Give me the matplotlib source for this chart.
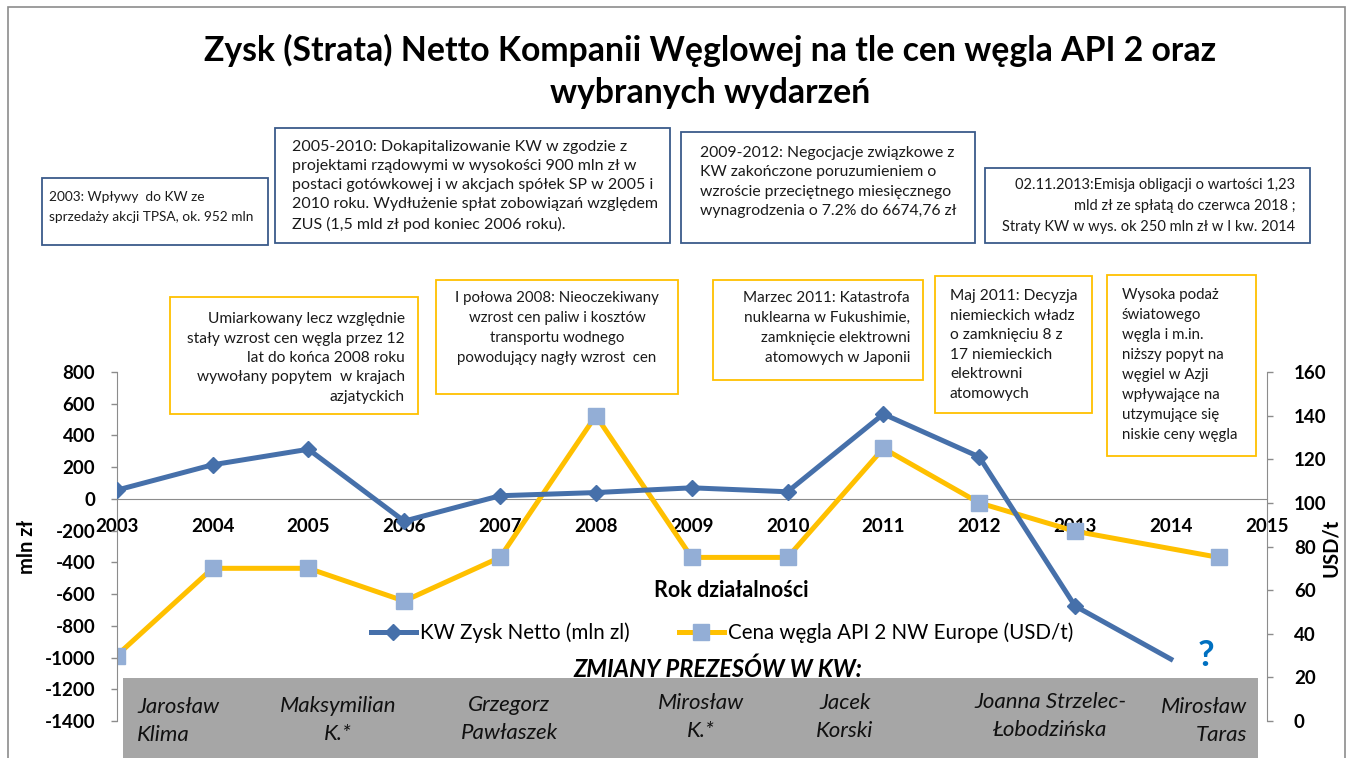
import matplotlib
matplotlib.use('Agg')
import matplotlib.pyplot as plt
from matplotlib.patches import Rectangle
from matplotlib.lines import Line2D

# ---------------- data ----------------
years_kw = [2003, 2004, 2005, 2006, 2007, 2008, 2009, 2010, 2011, 2012, 2013, 2014]
kw_profit = [55, 215, 313, -140, 20, 40, 70, 45, 535, 265, -675, -1010]

years_coal = [2003, 2004, 2005, 2006, 2007, 2008, 2009, 2010, 2011, 2012, 2013, 2014.5]
coal_price = [30, 70, 70, 55, 75, 140, 75, 75, 125, 100, 87, 75]

x_ticks = list(range(2003, 2016))
left_ticks = list(range(-1400, 801, 200))
right_ticks = list(range(0, 161, 20))

title = "Zysk (Strata) Netto Kompanii Węglowej na tle cen węgla API 2 oraz\nwybranych wydarzeń"
label_kw = "KW Zysk Netto (mln zl)"
label_coal = "Cena węgla API 2 NW Europe (USD/t)"

blue_notes = [
    "2003: Wpływy  do KW ze\nsprzedaży akcji TPSA, ok. 952 mln",
    "2005-2010: Dokapitalizowanie KW w zgodzie z\nprojektami rządowymi w wysokości 900 mln zł w\n"
    "postaci gotówkowej i w akcjach spółek SP w 2005 i\n2010 roku. Wydłużenie spłat zobowiązań względem\n"
    "ZUS (1,5 mld zł pod koniec 2006 roku).",
    "2009-2012: Negocjacje związkowe z\nKW zakończone poruzumieniem o\nwzroście przeciętnego miesięcznego\n"
    "wynagrodzenia o 7.2% do 6674,76 zł",
    "02.11.2013:Emisja obligacji o wartości 1,23\nmld zł ze spłatą do czerwca 2018 ;\n"
    "Straty KW w wys. ok 250 mln zł w I kw. 2014",
]
yellow_notes = [
    "Umiarkowany lecz względnie\nstały wzrost cen węgla przez 12\nlat do końca 2008 roku\n"
    "wywołany popytem  w krajach\nazjatyckich",
    "I połowa 2008: Nieoczekiwany\nwzrost cen paliw i kosztów\ntransportu wodnego\npowodujący nagły wzrost  cen",
    "Marzec 2011: Katastrofa\nnuklearna w Fukushimie,\nzamknięcie elektrowni\natomowych w Japonii",
    "Maj 2011: Decyzja\nniemieckich władz\no zamknięciu 8 z\n17 niemieckich\nelektrowni\natomowych",
    "Wysoka podaż\nświatowego\nwęgla i m.in.\nniższy popyt na\nwęgiel w Azji\nwpływające na\n"
    "utzymujące się\nniskie ceny węgla",
]
presidents = ["Jarosław\nKlima", "Maksymilian\nK.*", "Grzegorz\nPawłaszek", "Mirosław\nK.*",
              "Jacek\nKorski", "Joanna Strzelec-\nŁobodzińska", "Mirosław\nTaras"]

# ---------------- layout helpers ----------------
W, H = 1351, 758
def fx(px):
    return px / W
def fy(py):
    return 1 - py / H

FONT = 'Lato'
plt.rcParams['font.family'] = [FONT, 'DejaVu Sans']

BLUE = '#4670AA'
YELLOW = '#FFC000'
SQUARE = '#93AED6'
SPINE = '#8C8C8C'

fig = plt.figure(figsize=(W / 100, H / 100), dpi=100)
fig.patch.set_facecolor('white')

# outer frame
fig.add_artist(Rectangle((fx(8), fy(775)), fx(1345) - fx(8), fy(7) - fy(775),
                         transform=fig.transFigure, fill=False, edgecolor='#8C8C8C', lw=1.2, zorder=0))

ax_l, ax_r, ax_t, ax_b = 116.7, 1266.7, 372, 721
axc = fig.add_axes([fx(ax_l), fy(ax_b), (ax_r - ax_l) / W, (ax_b - ax_t) / H])
axk = axc.twinx()

# swap sides: coal axis on right (bottom layer), KW axis on left (top layer)
axc.yaxis.tick_right()
axc.yaxis.set_label_position('right')
axk.yaxis.tick_left()
axk.yaxis.set_label_position('left')
axc.patch.set_visible(False)
axk.patch.set_visible(False)

axc.set_xlim(2003, 2015)
axc.set_ylim(0, 160)
axk.set_ylim(-1400, 800)

for s in ['left', 'top']:
    axc.spines[s].set_visible(False)
axc.spines['right'].set_color(SPINE)
axc.spines['bottom'].set_color(SPINE)
axc.spines['bottom'].set_position(('axes', 1400 / 2200))
for s in ['right', 'top', 'bottom']:
    axk.spines[s].set_visible(False)
axk.spines['left'].set_color(SPINE)

axc.set_xticks(x_ticks)
axc.set_xticklabels([str(y) for y in x_ticks], fontsize=13.5, fontweight='bold')
axc.tick_params(axis='x', length=0, pad=13.5)
axc.set_yticks(right_ticks)
axc.set_yticklabels([str(v) for v in right_ticks], fontsize=13.5, fontweight='bold')
axc.tick_params(axis='y', length=4.5, color=SPINE, width=1, pad=15)
axk.set_yticks(left_ticks)
axk.set_yticklabels([str(v) for v in left_ticks], fontsize=13.5, fontweight='bold')
axk.tick_params(axis='y', length=4.5, color=SPINE, width=1, pad=11)

# series
axc.plot(years_coal, coal_price, color=YELLOW, lw=3.6, marker='s', markersize=12,
         markerfacecolor=SQUARE, markeredgecolor=SQUARE, zorder=3, label=label_coal)
axk.plot(years_kw, kw_profit, color=BLUE, lw=3.6, marker='D', markersize=8.5,
         markerfacecolor=BLUE, markeredgecolor=BLUE, markevery=list(range(len(years_kw) - 1)),
         zorder=3, label=label_kw)

# axis labels
axk.set_ylabel("mln zł", fontsize=14.5, fontweight='bold')
axk.yaxis.set_label_coords((37 - ax_l) / (ax_r - ax_l), (ax_b - 547) / (ax_b - ax_t))
axc.set_ylabel("USD/t", fontsize=14.5, fontweight='bold', rotation=90)
axc.yaxis.set_label_coords((1321 - ax_l) / (ax_r - ax_l), (ax_b - 548) / (ax_b - ax_t))
axc.set_xlabel("Rok działalności", fontsize=15.5, fontweight='bold')
axc.xaxis.set_label_coords((731 - ax_l) / (ax_r - ax_l), (ax_b - 580) / (ax_b - ax_t))

# legend
h_kw = Line2D([], [], color=BLUE, lw=3.6, marker='D', markersize=8.5)
h_coal = Line2D([], [], color=YELLOW, lw=3.6, marker='s', markersize=12,
                markerfacecolor=SQUARE, markeredgecolor=SQUARE)
fig.legend([h_kw, h_coal], [label_kw, label_coal], loc='center', bbox_to_anchor=(fx(722), fy(633)),
           ncol=2, frameon=False, fontsize=14.8, handlelength=2.2, handletextpad=0.2,
           columnspacing=2.4)

# title
fig.text(fx(710), fy(71.5), title, ha='center', va='center', fontsize=24.3, fontweight='bold',
         linespacing=1.4)

# annotation boxes
blue_boxes = [(42, 178, 268, 245), (275, 128, 670, 243), (681, 132, 975, 243), (985, 168, 1310, 243)]
blue_text = [(49, 207, 'left', 9.8), (292, 186, 'left', 11.5), (700, 182, 'left', 11.3),
             (1295, 206, 'right', 10.5)]
yellow_boxes = [(170, 297, 418, 414), (436, 280, 678, 394), (713, 280, 923, 380), (935, 276, 1092, 413),
                (1107, 275, 1256, 456)]
yellow_text = [(405, 358, 'right', 11.2), (557, 328, 'center', 10.8), (910, 328, 'right', 11),
               (950, 345, 'left', 11.2), (1122, 365, 'left', 10.8)]

def add_box(box, pos, txt, ec, pitch):
    x0, y0, x1, y1 = box
    fig.add_artist(Rectangle((fx(x0), fy(y1)), fx(x1) - fx(x0), fy(y0) - fy(y1),
                             transform=fig.transFigure, facecolor='white', edgecolor=ec, lw=1.3, zorder=2))
    tx, ty, ha, fs = pos
    ls = 1.4 * pitch / (18.4 * fs / 11)
    fig.text(fx(tx), fy(ty), txt, ha=ha, va='center', multialignment=ha, fontsize=fs,
             linespacing=ls, color='#1a1a1a', zorder=3)

for b, p, t in zip(blue_boxes, blue_text, blue_notes):
    add_box(b, p, t, '#3A5A8A', 20)
for b, p, t in zip(yellow_boxes, yellow_text, yellow_notes):
    add_box(b, p, t, YELLOW, 20)

# presidents band
fig.text(fx(718), fy(669), "ZMIANY PREZESÓW W KW:", ha='center', va='center', fontsize=17,
         fontweight='bold', fontstyle='italic', zorder=3)
fig.add_artist(Rectangle((fx(123), fy(765)), fx(1258) - fx(123), fy(678) - fy(765),
                         transform=fig.transFigure, facecolor='#A6A6A6', edgecolor='none', zorder=2))
pres_pos = [(137, 'left'), (338, 'center'), (509, 'center'), (701, 'center'), (845, 'center'),
            (1050, 'center'), (1247, 'right')]
pres_y = [721, 720, 719, 717, 717, 716, 721]
for name, (px, ha), py in zip(presidents, pres_pos, pres_y):
    fig.text(fx(px), fy(py), name, ha=ha, va='center', multialignment=ha, fontsize=16,
             fontstyle='italic', linespacing=1.45, color='#111111', zorder=3)

fig.text(fx(1206), fy(655), "?", ha='center', va='center', fontsize=26, fontweight='bold',
         color='#0070C0', zorder=3)

fig.savefig('out.png', dpi=100, facecolor='white')
